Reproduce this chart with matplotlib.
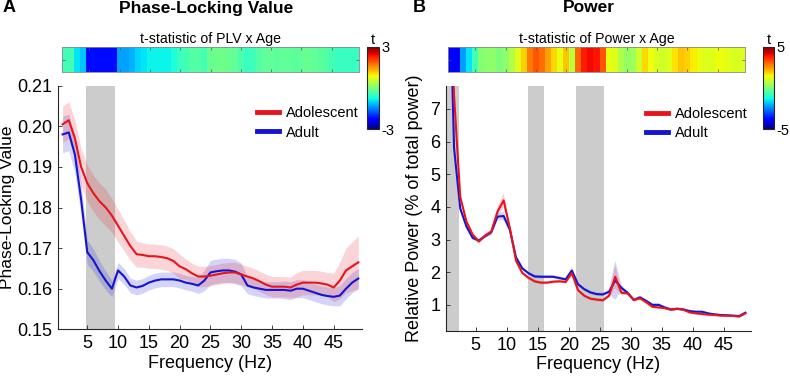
import numpy as np
import matplotlib.pyplot as plt
from matplotlib.lines import Line2D

plt.rcParams['font.family'] = ['Liberation Sans', 'DejaVu Sans']
plt.rcParams['axes.linewidth'] = 0.8

RED = "#e8141c"
BLUE = "#1414d2"
GREY = "#cccccc"
INK = "#262626"

# ---------------- panel A: phase-locking value ----------------
plv_freq = np.arange(1, 50)
plv_adol = [0.2005, 0.2015, 0.1970, 0.1900, 0.1860, 0.1835, 0.1815, 0.1800, 0.1780, 0.1755,
            0.1730, 0.1705, 0.1685, 0.1683, 0.1680, 0.1680, 0.1678, 0.1675, 0.1668, 0.1655,
            0.1648, 0.1638, 0.1630, 0.1630, 0.1632, 0.1635, 0.1638, 0.1640, 0.1640, 0.1635,
            0.1630, 0.1625, 0.1618, 0.1610, 0.1605, 0.1605, 0.1605, 0.1603, 0.1610, 0.1615,
            0.1615, 0.1615, 0.1613, 0.1610, 0.1603, 0.1620, 0.1645, 0.1655, 0.1665]
plv_adol_sem = [0.0045, 0.0045, 0.0045, 0.0045, 0.0045, 0.0045, 0.0045, 0.0045, 0.0042, 0.0040,
                0.0038, 0.0035, 0.0032, 0.0030, 0.0030, 0.0030, 0.0030, 0.0030, 0.0030, 0.0030,
                0.0025, 0.0025, 0.0025, 0.0025, 0.0025, 0.0025, 0.0025, 0.0025, 0.0025, 0.0025,
                0.0025, 0.0025, 0.0025, 0.0025, 0.0025, 0.0025, 0.0025, 0.0025, 0.0030, 0.0030,
                0.0030, 0.0030, 0.0030, 0.0030, 0.0035, 0.0045, 0.0055, 0.0060, 0.0065]
plv_adult = [0.1980, 0.1985, 0.1930, 0.1820, 0.1690, 0.1670, 0.1643, 0.1620, 0.1600, 0.1645,
             0.1630, 0.1608, 0.1603, 0.1607, 0.1615, 0.1620, 0.1623, 0.1623, 0.1623, 0.1620,
             0.1615, 0.1612, 0.1608, 0.1620, 0.1640, 0.1643, 0.1645, 0.1645, 0.1642, 0.1635,
             0.1608, 0.1603, 0.1600, 0.1597, 0.1597, 0.1597, 0.1597, 0.1595, 0.1600, 0.1600,
             0.1595, 0.1590, 0.1585, 0.1582, 0.1580, 0.1583, 0.1600, 0.1615, 0.1625]
plv_adult_sem = [0.0045, 0.0045, 0.0045, 0.0040, 0.0030, 0.0028, 0.0025, 0.0023, 0.0020, 0.0020,
                 0.0020, 0.0018, 0.0018, 0.0018, 0.0018, 0.0018, 0.0018, 0.0018, 0.0018, 0.0018,
                 0.0018, 0.0018, 0.0020, 0.0025, 0.0030, 0.0030, 0.0030, 0.0030, 0.0030, 0.0028,
                 0.0020, 0.0020, 0.0020, 0.0020, 0.0020, 0.0020, 0.0022, 0.0022, 0.0022, 0.0022,
                 0.0022, 0.0022, 0.0022, 0.0022, 0.0022, 0.0025, 0.0025, 0.0025, 0.0025]
plv_t = [-0.40, -0.40, -0.90, -1.10, -2.20, -2.20, -2.20, -2.20, -2.20, -1.30,
         -1.30, -1.20, -1.00, -0.90, -0.80, -0.80, -0.80, -0.80, -0.70, -0.50,
         -0.40, -0.30, -0.30, -0.40, -0.15, -0.10, -0.10, -0.15, -0.20, -0.35,
         -0.50, -0.45, -0.30, -0.20, -0.20, -0.25, -0.20, -0.20, -0.25, -0.20,
         -0.15, -0.20, -0.25, -0.30, -0.40, -0.50, -0.50, -0.50, -0.50]
plv_sig = [(4.8, 9.5)]

# ---------------- panel B: relative power ----------------
pow_freq = np.arange(0.5, 49, 1.0)
pow_adol = [14.0, 7.40, 4.30, 3.55, 3.15, 2.94, 3.12, 3.24, 3.85, 4.20,
            3.35, 2.35, 1.98, 1.83, 1.72, 1.68, 1.68, 1.71, 1.72, 1.70,
            1.97, 1.45, 1.28, 1.19, 1.16, 1.14, 1.28, 1.86, 1.37, 1.35,
            1.15, 1.20, 1.08, 0.94, 0.92, 0.90, 0.85, 0.88, 0.85, 0.77,
            0.74, 0.72, 0.70, 0.69, 0.67, 0.67, 0.66, 0.64, 0.74]
pow_adol_sem = [0.15, 0.15, 0.12, 0.08, 0.06, 0.06, 0.06, 0.08, 0.15, 0.22,
                0.12, 0.06, 0.05, 0.05, 0.05, 0.05, 0.05, 0.05, 0.05, 0.05,
                0.08, 0.05, 0.05, 0.05, 0.05, 0.05, 0.06, 0.35, 0.08, 0.05,
                0.05, 0.05, 0.05, 0.04, 0.04, 0.04, 0.04, 0.04, 0.04, 0.03,
                0.03, 0.03, 0.03, 0.03, 0.03, 0.03, 0.03, 0.03, 0.03]
pow_adult = [13.0, 5.80, 3.95, 3.40, 3.05, 2.97, 3.10, 3.22, 3.70, 3.72,
             3.30, 2.45, 2.12, 1.97, 1.87, 1.86, 1.86, 1.86, 1.82, 1.78,
             2.05, 1.63, 1.48, 1.38, 1.33, 1.32, 1.40, 1.75, 1.52, 1.37,
             1.15, 1.23, 1.12, 1.00, 1.00, 0.92, 0.86, 0.88, 0.86, 0.81,
             0.79, 0.79, 0.74, 0.71, 0.69, 0.68, 0.67, 0.66, 0.76]
pow_adult_sem = [0.15, 0.15, 0.10, 0.08, 0.06, 0.06, 0.06, 0.08, 0.12, 0.12,
                 0.10, 0.06, 0.05, 0.05, 0.05, 0.05, 0.05, 0.05, 0.05, 0.05,
                 0.10, 0.05, 0.05, 0.05, 0.05, 0.05, 0.08, 0.60, 0.10, 0.05,
                 0.05, 0.05, 0.05, 0.04, 0.05, 0.04, 0.04, 0.04, 0.04, 0.03,
                 0.03, 0.03, 0.03, 0.03, 0.03, 0.03, 0.03, 0.03, 0.03]
pow_t = [-3.8, -3.8, -2.2, -1.5, -0.7, 0.1, 0.2, 0.2, 0.0, 0.2,
         0.7, 1.2, 1.9, 2.8, 3.2, 2.9, 2.4, 1.8, 1.3, 2.0,
         0.8, 3.0, 3.8, 4.0, 3.9, 3.2, 1.3, 1.2, 0.6, 0.3,
         0.4, 1.0, 1.8, 1.4, 1.1, 1.0, 1.2, 1.7, 2.0, 1.9,
         1.6, 1.3, 1.2, 1.2, 1.4, 1.3, 1.2, 1.1, 1.2]
pow_sig = [(0.2, 2.26), (13.44, 15.97), (21.13, 25.65)]

W, H = 790, 381


def box(l, t, r, b):
    """pixel box (left, top, right, bottom) -> figure fraction rect"""
    return [l / W, 1 - b / H, (r - l) / W, (b - t) / H]


def panel(fig, rect, freq, adol, adol_sem, adult, adult_sem, sig, xlim, ylim):
    ax = fig.add_axes(rect)
    for lo, hi in sig:
        ax.axvspan(lo, hi, color=GREY, lw=0, zorder=0)
    for y, e, c in [(adult, adult_sem, BLUE), (adol, adol_sem, RED)]:
        y, e = np.asarray(y), np.asarray(e)
        ax.fill_between(freq, y - e, y + e, color=c, alpha=0.18, lw=0, zorder=1)
    ax.plot(freq, adult, color=BLUE, lw=1.5, zorder=2)
    ax.plot(freq, adol, color=RED, lw=1.5, zorder=3)
    ax.set_xlim(*xlim)
    ax.set_ylim(*ylim)
    ax.set_xticks(range(5, 50, 5))
    for s in ("top", "right"):
        ax.spines[s].set_visible(False)
    for s in ("left", "bottom"):
        ax.spines[s].set_color(INK)
    ax.tick_params(direction="in", length=3, width=0.6, labelsize=13,
                   colors=INK, labelcolor="black", pad=4)
    ax.set_xlabel("Frequency (Hz)", fontsize=13, labelpad=2)
    handles = [Line2D([], [], color=RED, lw=3.5), Line2D([], [], color=BLUE, lw=3.5)]
    ax.legend(handles, ["Adolescent", "Adult"], loc="upper left",
              bbox_to_anchor=(0.655, 0.915), frameon=False, fontsize=10.5,
              handlelength=1.5, handletextpad=0.5, labelspacing=0.35,
              borderpad=0, borderaxespad=0)
    return ax


def strip(fig, rect, crect, tvals, lim, title):
    ax = fig.add_axes(rect)
    edges = np.arange(0.5, len(tvals) + 1.0)
    m = ax.pcolormesh(edges, [0, 1], np.asarray(tvals)[None, :], cmap="jet",
                      vmin=-lim, vmax=lim)
    ax.set_xlim(edges[0], edges[-1])
    ax.set_ylim(0, 1)
    ax.set_xticks(range(5, 50, 5))
    ax.set_yticks([0.5])
    ax.tick_params(direction="in", length=2, width=0.5, colors="#555555",
                   labelbottom=False, labelleft=False, top=True, right=True)
    for s in ax.spines.values():
        s.set_color("#888888")
        s.set_linewidth(0.6)
    ax.set_title(title, fontsize=10.2, pad=3)
    cax = fig.add_axes(crect)
    cb = fig.colorbar(m, cax=cax, ticks=[-lim, lim])
    cb.ax.set_yticklabels([str(-lim), str(lim)])
    cb.ax.tick_params(length=0, labelsize=10.5, pad=1.5)
    cb.outline.set_linewidth(0.8)
    cb.outline.set_edgecolor(INK)
    cax.set_title("t", fontsize=10.5, pad=2)


fig = plt.figure(figsize=(W / 100, H / 100), dpi=100)

axA = panel(fig, box(58, 85.7, 362, 329.3), plv_freq, plv_adol, plv_adol_sem,
            plv_adult, plv_adult_sem, plv_sig, (0.25, 49.6), (0.15, 0.21))
axA.set_yticks(np.arange(0.15, 0.2101, 0.01))
axA.set_yticklabels([f"{v:.2f}" for v in np.arange(0.15, 0.2101, 0.01)])
axA.set_ylabel("Phase-Locking Value", fontsize=12.5)
axA.yaxis.set_label_coords(-0.142, 0.5)

axB = panel(fig, box(446, 86, 751, 331), pow_freq, pow_adol, pow_adol_sem,
            pow_adult, pow_adult_sem, pow_sig, (0.2, 49.4), (0.2, 7.7))
axB.set_yticks(range(1, 8))
axB.set_ylabel("Relative Power (% of total power)", fontsize=13, labelpad=5)

strip(fig, box(62, 47.3, 359, 72.3), box(367, 46.7, 379, 129.3), plv_t, 3,
      "t-statistic of PLV x Age")
strip(fig, box(448, 47.3, 745, 72.3), box(763, 46.7, 774, 129.3), pow_t, 5,
      "t-statistic of Power x Age")

fig.text(3 / W, 1 - 8 / H, "A", fontsize=13, fontweight="bold", va="center")
fig.text(206 / W, 1 - 8 / H, "Phase-Locking Value", fontsize=12.5,
         fontweight="bold", ha="center", va="center")
fig.text(413 / W, 1 - 8 / H, "B", fontsize=13, fontweight="bold", va="center")
fig.text(589 / W, 1 - 8 / H, "Power", fontsize=12.5, fontweight="bold",
         ha="center", va="center")

fig.savefig("out.png", dpi=100)
